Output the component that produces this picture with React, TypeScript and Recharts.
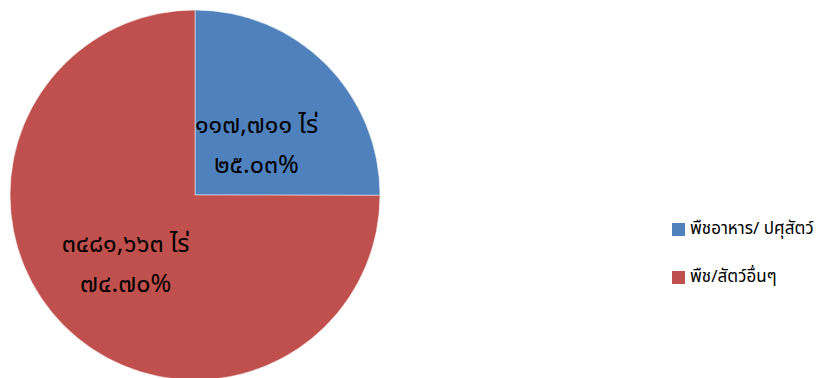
import { PieChart, Pie, Cell, Legend } from 'recharts';

const categories = ['พืชอาหาร/ ปศุสัตว์', 'พืช/สัตว์อื่นๆ'];
const shares = [25.03, 74.97];
const areaLabels = ['๑๑๗,๗๑๑ ไร่', '๓๔๘๑,๖๖๓ ไร่'];
const percentLabels = ['๒๕.๐๓%', '๗๔.๗๐%'];
const colors = ['#4F81BD', '#C0504D'];

const data = categories.map((name, i) => ({ name, value: shares[i] }));

const FONT = '"Noto Sans Thai", Tahoma, "Noto Sans", "DejaVu Sans", sans-serif';
const RAD = Math.PI / 180;

// how far out from the centre each slice's label sits, and a small vertical nudge
const labelRadius = [0.47, 0.53];
const labelNudge = [11, 0];

function SliceLabel(props: any) {
  const { cx, cy, midAngle, outerRadius, index } = props;
  const r = outerRadius * labelRadius[index];
  const x = cx + r * Math.cos(-midAngle * RAD);
  const y = cy + r * Math.sin(-midAngle * RAD) + labelNudge[index];
  return (
    <g>
      <text x={x} y={y - 20} textAnchor="middle" dominantBaseline="central" fontSize={25} fill="#000" fontFamily={FONT}>
        {areaLabels[index]}
      </text>
      <text x={x} y={y + 20} textAnchor="middle" dominantBaseline="central" fontSize={25} fill="#000" fontFamily={FONT}>
        {percentLabels[index]}
      </text>
    </g>
  );
}

function LegendBox() {
  return (
    <div style={{ fontFamily: FONT, fontSize: 17, color: '#000' }}>
      {categories.map((c, i) => (
        <div key={c} style={{ display: 'flex', alignItems: 'center', height: 24, marginBottom: i === 0 ? 24 : 0 }}>
          <div style={{ width: 13, height: 13, background: colors[i], marginRight: 5 }} />
          <span>{c}</span>
        </div>
      ))}
    </div>
  );
}

export default function App() {
  return (
    <div style={{ position: 'absolute', left: 0, top: 0, background: '#fff' }}>
      <PieChart width={839} height={378} margin={{ top: 0, right: 0, bottom: 0, left: 0 }}>
        <Pie
          data={data}
          dataKey="value"
          cx={195}
          cy={195}
          outerRadius={185}
          startAngle={90}
          endAngle={-270}
          stroke="#ffffff"
          strokeWidth={0.5}
          label={SliceLabel}
          labelLine={false}
          isAnimationActive={false}
        >
          {data.map((d, i) => (
            <Cell key={d.name} fill={colors[i]} />
          ))}
        </Pie>
        <Legend
          layout="vertical"
          align="right"
          verticalAlign="top"
          wrapperStyle={{ left: 672, top: 217, width: 167 }}
          content={() => <LegendBox />}
        />
      </PieChart>
    </div>
  );
}
